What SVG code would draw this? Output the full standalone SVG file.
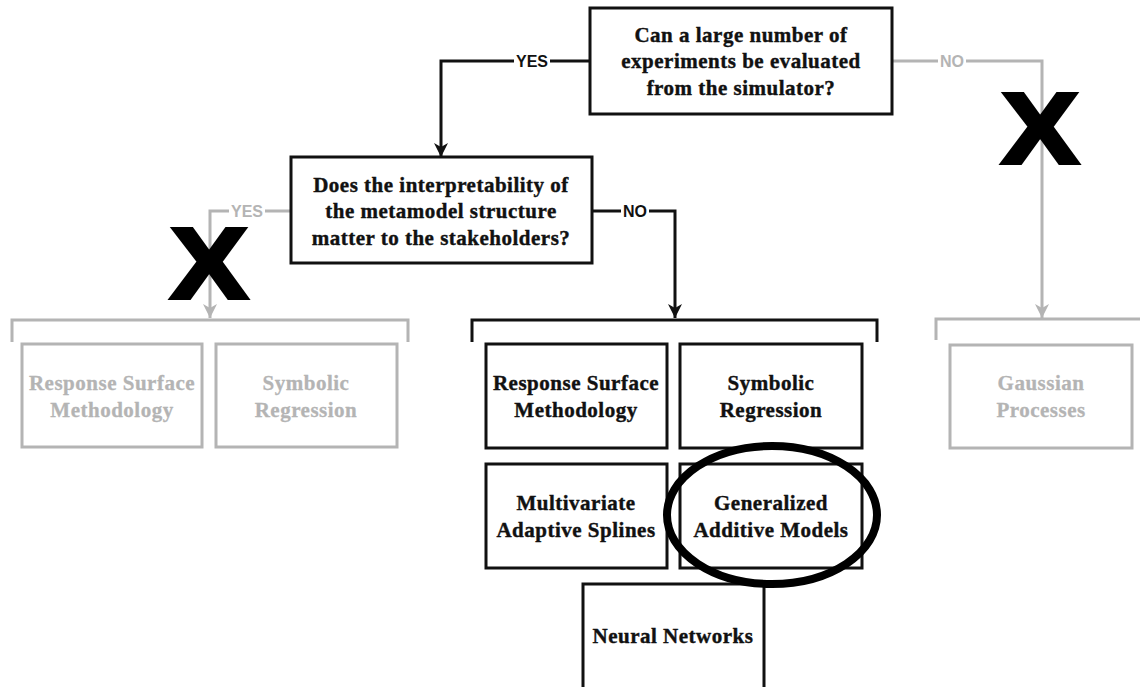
<svg xmlns="http://www.w3.org/2000/svg" width="1140" height="687" viewBox="0 0 1140 687">
<style>
.box{fill:#fff;stroke:#111;stroke-width:3}
.gbox{fill:#fff;stroke:#b4b4b4;stroke-width:3}
.t{font-family:"Liberation Serif","Times New Roman",serif;font-weight:bold;font-size:21px;letter-spacing:0.5px;text-anchor:middle;fill:#111;stroke:#111;stroke-width:0.4}
.gt{font-family:"Liberation Serif","Times New Roman",serif;font-weight:bold;font-size:21px;letter-spacing:0.5px;text-anchor:middle;fill:#b4b4b4;stroke:#b4b4b4;stroke-width:0.3}
.c{fill:none;stroke:#111;stroke-width:3}
.gc{fill:none;stroke:#b4b4b4;stroke-width:3}
.lbl{font-family:"Liberation Sans",Arial,sans-serif;font-weight:bold;font-size:16px;text-anchor:middle;fill:#111}
.glbl{font-family:"Liberation Sans",Arial,sans-serif;font-weight:bold;font-size:16px;text-anchor:middle;fill:#b4b4b4}
.x{font-family:"Liberation Sans",Arial,sans-serif;font-weight:bold;font-size:100px;text-anchor:middle;fill:#000;stroke:#000;stroke-width:4}
</style>
<defs>
<marker id="ah" viewBox="0 0 14 14" refX="14" refY="7" markerWidth="14" markerHeight="14" markerUnits="userSpaceOnUse" orient="auto"><path d="M0,0 L14,7 L0,14 L4,7 z" fill="#111"/></marker>
<marker id="gah" viewBox="0 0 14 14" refX="14" refY="7" markerWidth="14" markerHeight="14" markerUnits="userSpaceOnUse" orient="auto"><path d="M0,0 L14,7 L0,14 L4,7 z" fill="#b4b4b4"/></marker>
</defs>
<rect width="1140" height="687" fill="#fff"/>
<g id="connectors">
<path class="c" d="M590,61 H441 V157" marker-end="url(#ah)"/>
<path class="gc" d="M892,61 H1042 V318" marker-end="url(#gah)"/>
<path class="gc" d="M291,211 H210 V318" marker-end="url(#gah)"/>
<path class="c" d="M592,211 H675 V318" marker-end="url(#ah)"/>
<path class="gc" d="M12,342 V320 H408 V342"/>
<path class="c" d="M472,342 V320 H877 V342"/>
<path class="gc" d="M936,340 V319 H1145"/>
<rect x="514" y="52" width="36" height="18" fill="#fff"/>
<text class="lbl" x="532" y="67">YES</text>
<rect x="938" y="52" width="28" height="18" fill="#fff"/>
<text class="glbl" x="952" y="67">NO</text>
<rect x="229" y="202" width="36" height="18" fill="#fff"/>
<text class="glbl" x="247" y="217">YES</text>
<rect x="621" y="202" width="28" height="18" fill="#fff"/>
<text class="lbl" x="635" y="217">NO</text>
</g>
<g id="q1">
<rect class="box" x="590" y="8" width="302" height="106"/>
<text class="t" x="741" y="42">Can a large number of</text>
<text class="t" x="741" y="68">experiments be evaluated</text>
<text class="t" x="741" y="95">from the simulator?</text>
</g>
<g id="q2">
<rect class="box" x="291" y="157" width="301" height="106"/>
<text class="t" x="441" y="192">Does the interpretability of</text>
<text class="t" x="441" y="218">the metamodel structure</text>
<text class="t" x="441" y="245">matter to the stakeholders?</text>
</g>
<g id="grsm">
<rect class="gbox" x="22" y="344" width="180" height="103"/>
<text class="gt" x="112" y="390">Response Surface</text>
<text class="gt" x="112" y="417">Methodology</text>
</g>
<g id="gsr">
<rect class="gbox" x="216" y="344" width="181" height="103"/>
<text class="gt" x="306" y="390">Symbolic</text>
<text class="gt" x="306" y="417">Regression</text>
</g>
<g id="ggp">
<rect class="gbox" x="950" y="345" width="182" height="103"/>
<text class="gt" x="1041" y="390">Gaussian</text>
<text class="gt" x="1041" y="417">Processes</text>
</g>
<g id="rsm">
<rect class="box" x="486" y="344" width="181" height="104"/>
<text class="t" x="576" y="390">Response Surface</text>
<text class="t" x="576" y="417">Methodology</text>
</g>
<g id="sr">
<rect class="box" x="680" y="344" width="182" height="104"/>
<text class="t" x="771" y="390">Symbolic</text>
<text class="t" x="771" y="417">Regression</text>
</g>
<g id="mas">
<rect class="box" x="486" y="464" width="181" height="104"/>
<text class="t" x="576" y="510">Multivariate</text>
<text class="t" x="576" y="537">Adaptive Splines</text>
</g>
<g id="gam">
<rect class="box" x="680" y="464" width="182" height="104"/>
<text class="t" x="771" y="510">Generalized</text>
<text class="t" x="771" y="537">Additive Models</text>
</g>
<g id="nn">
<rect class="box" x="583" y="584" width="181" height="120"/>
<text class="t" x="673" y="643">Neural Networks</text>
</g>
<g id="marks">
<ellipse cx="772" cy="515" rx="105" ry="69" fill="none" stroke="#000" stroke-width="8"/>
<text class="x" transform="translate(209,298) scale(1.15,1)" x="0" y="0">X</text>
<text class="x" transform="translate(1040,163) scale(1.15,1)" x="0" y="0">X</text>
</g>
</svg>
